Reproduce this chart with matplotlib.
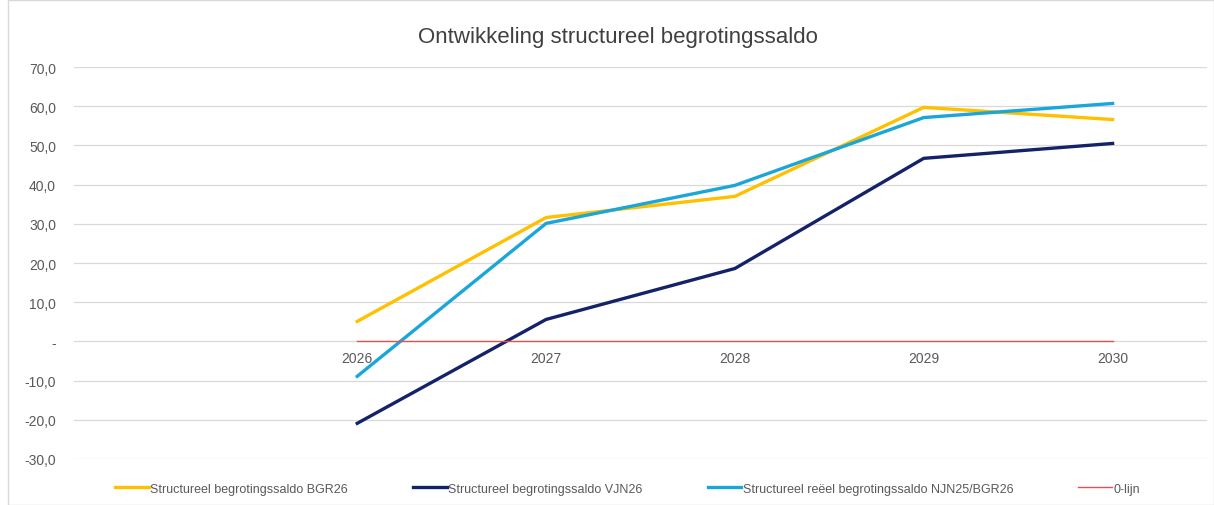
import matplotlib.pyplot as plt
from matplotlib.patches import Rectangle

plt.rcParams['font.family'] = ['Liberation Sans', 'DejaVu Sans']

# categorieen (eerste categorie is leeg)
jaren = ['', '2026', '2027', '2028', '2029', '2030']
bgr26 = [None, 5.1, 31.6, 37.0, 59.7, 56.6]
vjn26 = [None, -20.9, 5.6, 18.6, 46.7, 50.5]
njn25 = [None, -8.9, 30.1, 39.8, 57.1, 60.7]
nullijn = [None, 0, 0, 0, 0, 0]

yticks = [-30, -20, -10, 0, 10, 20, 30, 40, 50, 60, 70]

fig = plt.figure(figsize=(12.14, 5.06), dpi=100)
ax = fig.add_axes([74/1214, 46/506, 1133/1214, 392/506])

x = list(range(len(jaren)))
ax.plot(x, bgr26, color='#FFC000', lw=2.4, label='Structureel begrotingssaldo BGR26')
ax.plot(x, vjn26, color='#14226A', lw=2.4, label='Structureel begrotingssaldo VJN26')
ax.plot(x, njn25, color='#1BA6DA', lw=2.4, label='Structureel reëel begrotingssaldo NJN25/BGR26')
ax.plot(x, nullijn, color='#E2504F', lw=1.0, label='0-lijn')

ax.set_xlim(-0.5, len(jaren) - 0.5)
ax.set_ylim(-30, 70)
ax.set_yticks(yticks)
ax.set_yticklabels(['-' if v == 0 else f'{v:.1f}'.replace('.', ',') for v in yticks])
ax.set_xticks(x)
ax.set_xticklabels(jaren)
ax.grid(axis='y', color='#D9D9D9', lw=0.9)
ax.set_axisbelow(True)
for s in ax.spines.values():
    s.set_visible(False)
ax.spines['bottom'].set_position(('data', 0))
ax.tick_params(axis='both', length=0, labelsize=10, colors='#595959')
ax.tick_params(axis='y', pad=13)
ax.tick_params(axis='x', pad=7)

fig.text(0.509, 0.926, 'Ontwikkeling structureel begrotingssaldo', ha='center', va='center',
         fontsize=16, color='#404040')

fig.legend(loc='center', bbox_to_anchor=(0.517, 0.032), ncol=4, frameon=False,
           fontsize=9, handlelength=2.7, handletextpad=0.1, columnspacing=5.2,
           labelcolor='#595959')

fig.patches.append(Rectangle((8/1214, 0), 1 - 8/1214, 0.999, transform=fig.transFigure,
                             fill=False, edgecolor='#D9D9D9', lw=1))

fig.savefig('out.png', dpi=100)
